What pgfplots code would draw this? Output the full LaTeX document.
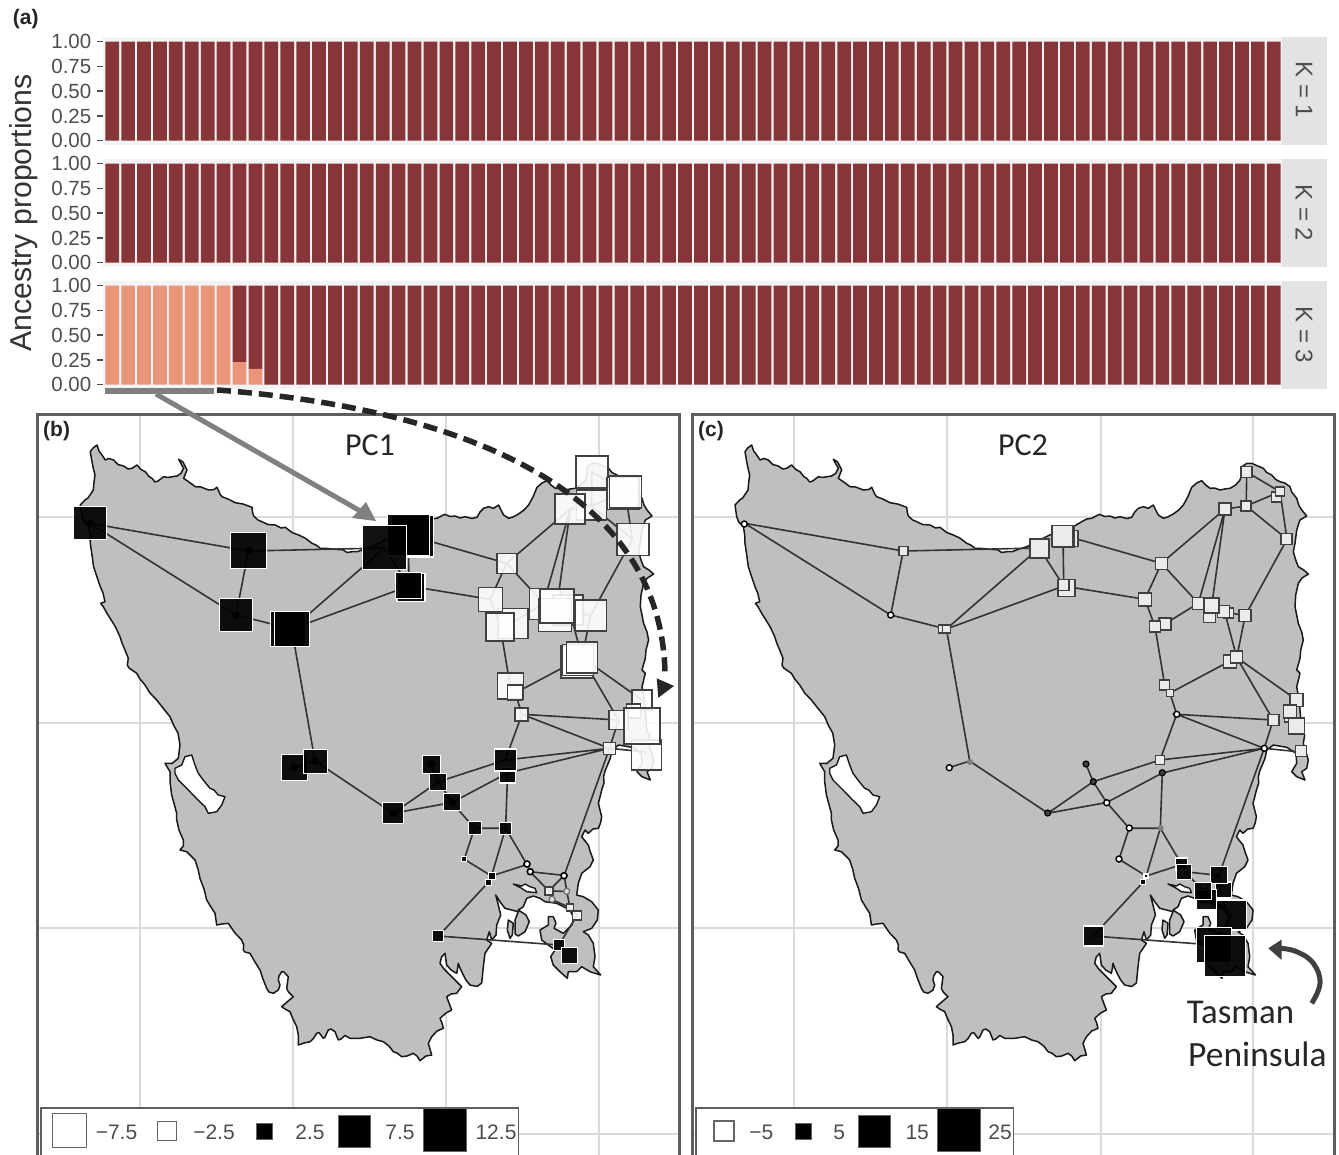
\documentclass[border=0pt]{standalone}
\usepackage{pgfplots}
\usepackage{pgfplotstable}
\usepackage{fontspec}
\pgfplotsset{compat=1.18}
\setmainfont{Liberation Sans}
\newfontfamily\calib{Carlito}
\definecolor{dred}{HTML}{873538}
\definecolor{orng}{HTML}{E8957A}
\definecolor{land}{HTML}{BFBFBF}
\definecolor{gridc}{HTML}{DADADA}
\definecolor{framec}{HTML}{5E5E5E}
\definecolor{txtc}{HTML}{4D4D4D}
\definecolor{stripc}{HTML}{E3E3E3}
\definecolor{panelc}{HTML}{F3F3F3}
\newcommand{\fs}[1]{\fontsize{#1}{#1}\selectfont}

% ---- ancestry bars
\pgfplotstableread[row sep=\\]{
x y\\ 0 1\\ 1 1\\ 2 1\\ 3 1\\ 4 1\\ 5 1\\ 6 1\\ 7 1\\ 8 1\\ 9 1\\ 10 1\\ 11 1\\ 12 1\\ 13 1\\ 14 1\\ 15 1\\ 16 1\\ 17 1\\ 18 1\\ 19 1\\ 20 1\\ 21 1\\ 22 1\\ 23 1\\ 24 1\\ 25 1\\ 26 1\\ 27 1\\ 28 1\\ 29 1\\ 30 1\\ 31 1\\ 32 1\\ 33 1\\ 34 1\\ 35 1\\ 36 1\\ 37 1\\ 38 1\\ 39 1\\ 40 1\\ 41 1\\ 42 1\\ 43 1\\ 44 1\\ 45 1\\ 46 1\\ 47 1\\ 48 1\\ 49 1\\ 50 1\\ 51 1\\ 52 1\\ 53 1\\ 54 1\\ 55 1\\ 56 1\\ 57 1\\ 58 1\\ 59 1\\ 60 1\\ 61 1\\ 62 1\\ 63 1\\ 64 1\\ 65 1\\ 66 1\\ 67 1\\ 68 1\\ 69 1\\ 70 1\\ 71 1\\ 72 1\\ 73 1\\
}\barsone
\pgfplotstableread[row sep=\\]{
x lo hi\\ 0 1 0\\ 1 1 0\\ 2 1 0\\ 3 1 0\\ 4 1 0\\ 5 1 0\\ 6 1 0\\ 7 1 0\\ 8 0.228 0.772\\ 9 0.16 0.84\\ 10 0 1\\ 11 0 1\\ 12 0 1\\ 13 0 1\\ 14 0 1\\ 15 0 1\\ 16 0 1\\ 17 0 1\\ 18 0 1\\ 19 0 1\\ 20 0 1\\ 21 0 1\\ 22 0 1\\ 23 0 1\\ 24 0 1\\ 25 0 1\\ 26 0 1\\ 27 0 1\\ 28 0 1\\ 29 0 1\\ 30 0 1\\ 31 0 1\\ 32 0 1\\ 33 0 1\\ 34 0 1\\ 35 0 1\\ 36 0 1\\ 37 0 1\\ 38 0 1\\ 39 0 1\\ 40 0 1\\ 41 0 1\\ 42 0 1\\ 43 0 1\\ 44 0 1\\ 45 0 1\\ 46 0 1\\ 47 0 1\\ 48 0 1\\ 49 0 1\\ 50 0 1\\ 51 0 1\\ 52 0 1\\ 53 0 1\\ 54 0 1\\ 55 0 1\\ 56 0 1\\ 57 0 1\\ 58 0 1\\ 59 0 1\\ 60 0 1\\ 61 0 1\\ 62 0 1\\ 63 0 1\\ 64 0 1\\ 65 0 1\\ 66 0 1\\ 67 0 1\\ 68 0 1\\ 69 0 1\\ 70 0 1\\ 71 0 1\\ 72 0 1\\ 73 0 1\\
}\barsthree

% ---- coastline, in pixel coordinates of panel (b)
\pgfplotstableread[row sep=\\]{
x y\\
90.3 451.7\\ 93 448\\ 97 445\\ 99 451\\ 102 455\\ 105.3 460\\ 109 458.5\\ 113.6 460\\ 118 464.5\\ 123.6 466\\ 128 469\\ 132 468.3\\ 137 465\\ 141 469.5\\ 145.3 471.7\\ 149 476.5\\ 152 478.3\\ 155 482\\ 158 481\\ 163.6 476.7\\ 168 477.5\\ 172 476.7\\ 177 476\\ 181 473.3\\ 183.6 468.3\\ 178.6 459.3\\ 183 462\\ 187 470\\ 183.6 478.3\\ 189 482\\ 195.3 486.7\\ 201 487\\ 208.6 490\\ 214 489.5\\ 217 487.3\\ 220 494\\ 222 496.7\\ 228 499\\ 235.3 502.7\\ 243 504\\ 252 507.3\\ 252.5 512\\ 253.6 516\\ 258 520\\ 262 521.7\\ 268 524.5\\ 275.3 525\\ 281 528\\ 285.3 527.3\\ 292 532.5\\ 298.6 535\\ 305 538\\ 312 543.3\\ 316 545\\ 320.3 548.3\\ 328 548.5\\ 335.3 549.3\\ 343 549.8\\ 347 552.5\\ 352 551.7\\ 358 551.5\\ 363.6 549.3\\ 372 546.7\\ 395 535\\ 418.6 526.7\\ 427 521.7\\ 432 519\\ 437 518.3\\ 444.6 514.3\\ 450 516.5\\ 455.3 516\\ 460 518\\ 465.3 516.7\\ 472 518.5\\ 477 517.3\\ 480 512\\ 483.6 508.3\\ 488.6 506.7\\ 493.6 508.3\\ 498.6 505\\ 501 510\\ 503.6 515\\ 508.6 518.3\\ 513 517\\ 518.6 514\\ 524 510\\ 528.6 505\\ 533 497\\ 537 487.3\\ 542 483\\ 547 480.7\\ 551 485\\ 555.3 488.3\\ 560 488\\ 565.3 490\\ 570 489\\ 575.3 488.3\\ 581 485\\ 585.3 480\\ 587 474\\ 587 466.7\\ 592 463.5\\ 597 463.3\\ 603 466\\ 608.6 468.3\\ 612 472.5\\ 617 475\\ 621 479.5\\ 625.3 481.7\\ 630 483\\ 635.3 486.7\\ 637 492\\ 642 498.3\\ 644 505\\ 647 510\\ 652 516\\ 645.3 520\\ 642 530\\ 640.3 543.3\\ 638.6 551.7\\ 641 560\\ 643.6 566.7\\ 649 570\\ 653.6 574\\ 647 578.3\\ 643.6 583.3\\ 641 595\\ 640.3 606.7\\ 642 615\\ 643.6 623.3\\ 647 632\\ 648.6 640\\ 646 650\\ 645.3 658.3\\ 642 670\\ 645.3 673.3\\ 642 686.7\\ 644 698\\ 645.3 710\\ 647 731.7\\ 650 735\\ 648.6 743.3\\ 653.6 760\\ 652 768.3\\ 647 771.7\\ 650.3 780\\ 642 776.7\\ 637 771.7\\ 642 763.3\\ 641.3 753.3\\ 632 747.3\\ 618.6 745\\ 612 750\\ 610.3 758.3\\ 605 771\\ 603.6 776.7\\ 604 783\\ 601.7 790\\ 600 797\\ 598.3 803.3\\ 600 810\\ 601.7 816.7\\ 600.5 823\\ 598.3 828.3\\ 593 829\\ 588.3 833.3\\ 585 830\\ 581.7 836.7\\ 585 841\\ 588.3 845\\ 590 851\\ 592.7 858.3\\ 593.3 860\\ 590 866.7\\ 581.7 873.3\\ 578.3 883.3\\ 576.7 895\\ 583.3 896.7\\ 591.7 901.7\\ 598.3 910\\ 597.3 920\\ 591.7 928.3\\ 583.3 931.7\\ 588.3 935\\ 593.3 943.3\\ 595 956.7\\ 593.3 966.7\\ 600.7 975\\ 590 971.7\\ 581.7 966.7\\ 576.7 971.7\\ 568.3 971.7\\ 567.3 978.3\\ 560 971.7\\ 553.3 965\\ 550.7 956.7\\ 555 950\\ 541.7 940\\ 540 930\\ 548.3 925\\ 548.3 916.7\\ 553.3 916.7\\ 556 923.3\\ 554 928.3\\ 563.3 933.3\\ 571.7 925\\ 574 918.3\\ 570 910\\ 556.7 903.3\\ 545 901.7\\ 540 898.3\\ 533.3 896\\ 526.7 898.3\\ 523.3 906.7\\ 518.3 910\\ 526 915\\ 529.3 921.7\\ 525 931.7\\ 518.3 936\\ 515 934\\ 515 920\\ 518.3 911.7\\ 511.7 910\\ 505 908.3\\ 500 901.7\\ 495.7 895\\ 498.3 905\\ 500.7 915\\ 496.7 925\\ 496 935\\ 491.7 940\\ 489.3 931.7\\ 486.7 940\\ 491.7 943.3\\ 485 953.3\\ 483.3 966.7\\ 481.7 983\\ 477 986.5\\ 470 985\\ 466 980\\ 463.3 975\\ 460 968\\ 458.3 963.3\\ 457.5 969\\ 456.7 973.3\\ 451 970\\ 446.7 965\\ 445 953.3\\ 441.5 957\\ 440 963.3\\ 444 969\\ 450 975\\ 455 980\\ 461.7 986.7\\ 459 990\\ 456.7 993.3\\ 451 994\\ 446.7 996.7\\ 449 1003\\ 451.7 1010\\ 446 1013\\ 440 1018.3\\ 442 1023\\ 443.3 1028.3\\ 437 1031\\ 431.7 1036.7\\ 428.3 1043.3\\ 430 1049\\ 431.7 1055\\ 426 1056\\ 420 1060.7\\ 417 1056\\ 413.3 1053.3\\ 407 1056\\ 401.7 1056.7\\ 397 1053\\ 393.3 1051.7\\ 389 1046\\ 383.3 1041.7\\ 377 1040\\ 370 1036.7\\ 360 1038.3\\ 350 1038.3\\ 345 1035.5\\ 341 1039\\ 338.3 1040\\ 335 1031.7\\ 331 1029\\ 328.3 1030\\ 325 1037\\ 323.3 1038.3\\ 319 1032.5\\ 316.7 1033.3\\ 313 1039\\ 310 1041.7\\ 304 1043\\ 298.3 1045\\ 298.5 1036\\ 296.7 1026.7\\ 293 1019\\ 290 1011.7\\ 285 1009\\ 281.7 1006.7\\ 287 1002\\ 293.3 996.7\\ 288.5 992\\ 286.7 988.3\\ 288.3 976.7\\ 284 972\\ 281.7 971.7\\ 279 976\\ 278.3 980\\ 280 985\\ 278.3 990\\ 273.3 993.3\\ 269 992\\ 266.7 988.3\\ 263 979\\ 260 970\\ 255 962\\ 250 953.3\\ 245 952\\ 243.3 950\\ 243.7 945\\ 241.7 940\\ 235 933\\ 228.3 923.3\\ 222 924\\ 216.7 925\\ 215 913.3\\ 211 907\\ 206.7 900\\ 204 889\\ 200 878.3\\ 198 869\\ 195 860\\ 190 855\\ 186.7 851.7\\ 180 850\\ 183.3 846\\ 183.3 840\\ 179 830\\ 176.7 820\\ 176.7 813.3\\ 171.7 795\\ 170 781.7\\ 170 771.7\\ 165 763.3\\ 172 763.5\\ 178.3 758.3\\ 180 745\\ 178 733\\ 174 726\\ 170 716.7\\ 163 708\\ 156.7 700\\ 150 693\\ 145 685\\ 140 679\\ 136.7 673.3\\ 129 668\\ 127.3 665\\ 128.3 658.3\\ 125 650\\ 122 643\\ 120 636.7\\ 116 628\\ 113.3 623.3\\ 108 615\\ 103.3 606.7\\ 100.7 603.3\\ 105 601.7\\ 103 593\\ 100.3 586.7\\ 97 577\\ 93.6 566.7\\ 92 555\\ 90.3 543.3\\ 90 535\\ 88.7 526.7\\ 84 522\\ 82 516.7\\ 80.3 505\\ 85 500\\ 88 498\\ 93.3 490\\ 94 482\\ 95 475\\ 93.3 468.3\\ 91.7 460\\
}\coast
\pgfplotstableread[row sep=\\]{
x y\\ 175 768.3\\ 181.7 765\\ 185 756.7\\ 191.7 755\\ 195 765\\ 198.3 773.3\\ 204 781\\ 210 788.3\\ 214 790\\ 218.3 795\\ 225 796.7\\ 221.7 805\\ 216.7 811.7\\ 208.3 813.3\\ 205 806.7\\ 197 799\\ 190 791.7\\ 178.3 780\\ 175 773.3\\
}\harbour
\pgfplotstableread[row sep=\\]{
x y\\ 513.3 884\\ 521.7 888.3\\ 526.7 891.7\\ 536.7 892.7\\ 535 888.3\\ 530 886.7\\ 525 884\\ 521.7 886\\
}\pitt
\pgfplotstableread[row sep=\\]{
x y\\ 508.3 920\\ 513.3 923.3\\ 512.3 935\\ 510 938.3\\ 507.3 930\\
}\sliver

% ---- network edges
\pgfplotstableread[row sep=\\]{
x y\\
90 523.3\\ 248.5 551\\ 384.5 548\\ nan nan\\
90 523.3\\ 236 615\\ 291.7 629\\ 384.5 548\\ nan nan\\
248.5 551\\ 236 615\\ nan nan\\
291.7 629\\ 409 586\\ 490.2 599.3\\ 500.3 626.7\\ 510 685\\ 515.2 693\\ 522 714.3\\ 505.3 760\\ 438.5 781.7\\ 431.2 764.2\\ nan nan\\
291.7 629\\ 315 761\\ 393.2 813.2\\ 438.5 781.7\\ nan nan\\
315 761\\ 294.3 767.7\\ nan nan\\
393.2 813.2\\ 452 802.5\\ 438.5 781.7\\ nan nan\\
384.5 548\\ 409 586\\ 408.3 535\\ 506.7 563.3\\ 490.2 599.3\\ nan nan\\
506.7 563.3\\ 570.3 509\\ 543.6 603.3\\ 506.7 563.3\\ nan nan\\
510 624\\ 543.6 603.3\\ nan nan\\
570.3 509\\ 557 605.7\\ 570 612\\ 590.5 615.7\\ 632.3 539.2\\ 625.3 491.7\\ 592 472\\ 591.5 506\\ 570.3 509\\ nan nan\\
591.5 506\\ 625.3 491.7\\ nan nan\\
591.5 506\\ 632.3 539.2\\ nan nan\\
570 612\\ 582 657.5\\ 590.5 615.7\\ nan nan\\
515.2 693\\ 582 657.5\\ 642 700\\ nan nan\\
582 657.5\\ 618.5 720\\ 522 714.3\\ 609.5 748.3\\ 505.3 760\\ nan nan\\
618.5 720\\ 609.5 748.3\\ 507.6 773\\ 452 802.5\\ nan nan\\
609.5 748.3\\ 646.2 752\\ nan nan\\
507.6 773\\ 505.6 828.2\\ 474.5 828.2\\ 452 802.5\\ nan nan\\
474.5 828.2\\ 464.3 859.2\\ 491.5 876\\ 505.6 828.2\\ 527 864.5\\ 491.5 876\\ 488.2 882.4\\ 438.5 936\\ 559 945\\ nan nan\\
527 864.5\\ 530 871.7\\ 564.2 875.4\\ 609.5 748.3\\ nan nan\\
530 871.7\\ 548.8 890.8\\ 564.2 875.4\\ 566.8 891.5\\ 548.8 890.8\\ 552 899.6\\ 570 907.7\\ 566.8 891.5\\ nan nan\\
570 907.7\\ 577 915.2\\ 559 945\\ nan nan\\
}\edges

% ---- panel (b): squares, width s in pixels
\pgfplotstableread[row sep=\\]{
x y s\\
592 471.7 32\\ 591.5 505 30\\ 622.7 493.3 32\\ 625.3 491.7 32\\ 570 509 30\\ 632.7 539.3 32\\
506.7 563.3 20\\ 513 623.5 30\\ 490.3 599.3 24\\ 500 626.7 28\\ 545 604 31\\ 568 610 30\\ 555 615 33\\ 557 605.7 34\\ 591 615.7 31\\
576.7 661.7 32\\ 578 660 31\\ 582 657.7 31\\ 510.3 685.7 26\\ 515 692.7 15\\ 521.7 714.3 13\\
641.7 700 20\\ 633.3 711 14\\ 618.7 720 19\\ 646.3 755 30\\ 642 726 36\\ 609.3 748.3 12\\
549 890.7 8\\ 570 907.7 7\\ 577 915.3 9\\
}\bwhite
\pgfplotstableread[row sep=\\]{
x y s\\
90 523.3 33\\ 248.7 550.7 36\\ 236.3 615 33\\ 288.3 629 35\\ 292.3 629 35\\ 294.7 767.7 26\\ 315.3 761.3 24\\
412.3 536 42\\ 408.3 535 42\\ 384.7 547.7 44\\ 411 587.7 28\\ 408.7 585.3 26\\
507.3 775 16\\ 505.3 760 22\\ 431.3 764.3 18\\ 438 781.7 17\\ 452 802.3 17\\ 393 813.3 21\\ 474.7 828.3 13\\ 505.3 828.3 12\\ 464.3 859.3 5\\ 491.7 876 7\\ 488.3 882.7 6\\ 438.3 936 11\\ 559 945 11\\ 569.3 955.7 16\\
}\bblack
\pgfplotstableread[row sep=\\]{
x y\\ 90 523.3\\ 248.5 551\\ 236 615\\ 315 761\\ 294.3 767.7\\ 393.2 813.2\\ 431.2 764.2\\ 452 802.5\\
}\bdots
\pgfplotstableread[row sep=\\]{
x y\\ 527 864\\ 530.3 871.7\\ 564 875.7\\
}\brings
\pgfplotstableread[row sep=\\]{
x y\\ 566.7 891.3\\ 552 899.3\\
}\bringsb

% ---- panel (c)
\pgfplotstableread[row sep=\\]{
x y s\\
248.6 551 9\\ 287.6 629 8\\ 292 629 8\\ 384.6 548.3 19\\ 415.3 538.3 16\\ 408.8 536.5 22\\ 408 536 21\\ 412 588 17\\ 408.6 585 11\\
507 563.3 12\\ 490.3 599.3 13\\ 510.3 624 12\\ 500.3 626.7 11\\ 543.6 603.3 12\\ 554.6 616.7 12\\ 573.6 613 10\\ 568.6 611.7 12\\ 557 605.7 15\\ 590.3 615.7 12\\ 575.3 661.7 13\\ 582 657 12\\ 509.6 685 10\\ 515.3 693 7\\
618.6 720 11\\ 642 700 13\\ 635 717 10\\ 635.3 711.7 13\\ 642 726 16\\ 646.3 751 11\\ 505.3 760 9\\ 570.3 509 12\\ 592 472 11\\ 591.3 506 10\\ 622 497 10\\ 625.3 491.7 9\\ 632 539 11\\
}\cwhite
\pgfplotstableread[row sep=\\]{
x y s\\
527 864 12\\ 529.6 871.7 15\\ 568.6 890 16\\ 564.3 875 17\\ 552 899.3 20\\ 548.6 891 17\\ 577 915 30\\ 559 945 35\\ 570.3 955.7 41\\ 438.6 936 20\\ 491.3 876 4\\ 488 882 5\\
}\cblack
\pgfplotstableread[row sep=\\]{
x y\\ 89.6 524\\ 236 615\\ 294.6 767.7\\ 452 802.7\\ 522 714.3\\ 609.6 748.3\\ 474.6 828\\ 464.3 859\\
}\crings
\pgfplotstableread[row sep=\\]{
x y\\ 393 813 \\ 507.6 772.7\\ 431.3 764\\ 438.6 781.7\\
}\cdark
\pgfplotstableread[row sep=\\]{
x y\\ 315.3 762\\ 506 828\\
}\cgrey

% ---- legends
\pgfplotstableread[row sep=\\]{
x y s\\ 69.7 1130.7 34\\ 167 1131 19\\
}\blegw
\pgfplotstableread[row sep=\\]{
x y s\\ 264.7 1131 16\\ 354.5 1131 32\\ 445 1130 43\\
}\blegb
\pgfplotstableread[row sep=\\]{
x y s\\ 69.3 1131 20\\
}\clegw
\pgfplotstableread[row sep=\\]{
x y s\\ 148.3 1131 16\\ 220.1 1131 32\\ 304 1130 43\\
}\clegb

\pgfplotsset{
 barax/.style={
  scale only axis,width=1179pt,height=108pt,anchor=north west,
  xmin=-0.578,xmax=73.515,ymin=-0.043,ymax=1.047,
  axis background/.style={fill=panelc},
  axis line style={draw=none},
  xtick=\empty,ytick={0,0.25,0.5,0.75,1},ytick pos=left,tick align=outside,
  major tick length=6.5pt,
  tick style={draw=txtc,line width=1.5pt},
  /pgf/number format/assume math mode=true,
  /pgf/number format/fixed,/pgf/number format/fixed zerofill,/pgf/number format/precision=2,
  yticklabel style={font=\fs{20.5},text=txtc,inner sep=0pt,xshift=-5pt},
  ybar stacked,bar width=13.7pt,
 },
 mapax/.style={
  scale only axis,anchor=north west,y dir=reverse,
  ymin=414,ymax=1156,height=742pt,
  xtick={139.5,292.7,446,598.7},ytick={517.3,722.7,928.3,1134.3},
  xticklabels={},yticklabels={},
  major tick length=0pt,tick style={draw=none},
  grid=major,grid style={draw=gridc,line width=2pt},
  axis line style={draw=framec,line width=3pt},
 },
 wsq/.style={scatter,only marks,mark=square*,
  scatter/use mapped color={draw=black!75,fill=white,fill opacity=0.88},
  mark options={line width=1.6pt},
  visualization depends on={\thisrow{s}/2 \as \ms},
  scatter/@pre marker code/.append style={/tikz/mark size=\ms}},
 csq/.style={scatter,only marks,mark=square*,
  scatter/use mapped color={draw=black!75,fill=black!8},
  mark options={line width=1.5pt},
  visualization depends on={\thisrow{s}/2 \as \ms},
  scatter/@pre marker code/.append style={/tikz/mark size=\ms}},
 ksq/.style={scatter,only marks,mark=square*,
  scatter/use mapped color={draw=#1,fill=black,fill opacity=0.93},
  mark options={line width=1.2pt},
  visualization depends on={\thisrow{s}/2 \as \ms},
  scatter/@pre marker code/.append style={/tikz/mark size=\ms}},
 lsq/.style={scatter,only marks,mark=square*,
  scatter/use mapped color={draw=#1,fill=white},
  mark options={line width=1.5pt},
  visualization depends on={\thisrow{s}/2 \as \ms},
  scatter/@pre marker code/.append style={/tikz/mark size=\ms}},
 bsq/.style={scatter,only marks,mark=square*,
  scatter/use mapped color={draw=#1,fill=black},
  mark options={line width=1pt},
  visualization depends on={\thisrow{s}/2 \as \ms},
  scatter/@pre marker code/.append style={/tikz/mark size=\ms}},
 land/.style={fill=land,draw=black!90,line width=1.5pt,line join=round},
 hole/.style={fill=white,draw=black!90,line width=1.4pt,line join=round},
 net/.style={draw=black!80,line width=1.6pt,unbounded coords=jump},
}

\begin{document}
\begin{tikzpicture}
\path[use as bounding box] (0pt,0pt) rectangle (1339pt,-1155pt);

% ---- bars
\begin{axis}[barax,at={(103pt,-37pt)}]
\addplot[fill=dred,draw=none] table[x=x,y=y]{\barsone};
\end{axis}
\begin{axis}[barax,at={(103pt,-159pt)}]
\addplot[fill=dred,draw=none] table[x=x,y=y]{\barsone};
\end{axis}
\begin{axis}[barax,at={(103pt,-281pt)}]
\addplot[fill=orng,draw=none] table[x=x,y=lo]{\barsthree};
\addplot[fill=dred,draw=none] table[x=x,y=hi]{\barsthree};
\end{axis}

% ---- panel b
\begin{axis}[mapax,at={(38pt,-414pt)},width=641pt,xmin=38,xmax=679]
\addplot[land] table[x=x,y=y]{\coast} -- cycle;
\addplot[hole] table[x=x,y=y]{\harbour} -- cycle;
\addplot[hole] table[x=x,y=y]{\pitt} -- cycle;
\addplot[land] table[x=x,y=y]{\sliver} -- cycle;
\addplot[net] table[x=x,y=y]{\edges};
\draw[fill=white,draw=framec,line width=1.3pt] (axis cs:41,1108) rectangle (axis cs:518.3,1157);
\node[anchor=base,font=\fs{21},text=txtc] at (axis cs:116.5,1139.3) {−7.5};
\node[anchor=base,font=\fs{21},text=txtc] at (axis cs:214,1139.3) {−2.5};
\node[anchor=base,font=\fs{21},text=txtc] at (axis cs:310,1139.3) {2.5};
\node[anchor=base,font=\fs{21},text=txtc] at (axis cs:400,1139.3) {7.5};
\node[anchor=base,font=\fs{21},text=txtc] at (axis cs:496,1139.3) {12.5};
\addplot[wsq] table[x=x,y=y]{\bwhite};
\addplot[ksq=white] table[x=x,y=y]{\bblack};
\addplot[only marks,mark=*,mark size=3.5pt,mark options={fill=black,draw=none}] table[x=x,y=y]{\bdots};
\addplot[only marks,mark=*,mark size=3pt,mark options={fill=white,draw=black,line width=1.6pt}] table[x=x,y=y]{\brings};
\addplot[only marks,mark=*,mark size=3pt,mark options={fill=land!50!white,draw=black!60,line width=1.1pt}] table[x=x,y=y]{\bringsb};
\addplot[lsq=black!60] table[x=x,y=y]{\blegw};
\addplot[bsq=black!60] table[x=x,y=y]{\blegb};
\end{axis}

% ---- panel c (same site coordinates as panel b)
\begin{axis}[mapax,at={(692.7pt,-414pt)},width=641.3pt,xmin=38,xmax=679.3]
\addplot[land] table[x=x,y=y]{\coast} -- cycle;
\addplot[hole] table[x=x,y=y]{\harbour} -- cycle;
\addplot[hole] table[x=x,y=y]{\pitt} -- cycle;
\addplot[land] table[x=x,y=y]{\sliver} -- cycle;
\addplot[net] table[x=x,y=y]{\edges};
\draw[fill=white,draw=framec,line width=1.3pt] (axis cs:41.3,1108) rectangle (axis cs:358.6,1157);
\node[anchor=base,font=\fs{21},text=txtc] at (axis cs:106.7,1139.3) {−5};
\node[anchor=base,font=\fs{21},text=txtc] at (axis cs:184.6,1139.3) {5};
\node[anchor=base,font=\fs{21},text=txtc] at (axis cs:262.5,1139.3) {15};
\node[anchor=base,font=\fs{21},text=txtc] at (axis cs:345.3,1139.3) {25};
\addplot[csq] table[x=x,y=y]{\cwhite};
\addplot[ksq=white] table[x=x,y=y]{\cblack};
\addplot[only marks,mark=*,mark size=3pt,mark options={fill=white,draw=black,line width=1.4pt}] table[x=x,y=y]{\crings};
\addplot[only marks,mark=*,mark size=3pt,mark options={fill=black!75,draw=black,line width=1.2pt}] table[x=x,y=y]{\cdark};
\addplot[only marks,mark=*,mark size=2.5pt,mark options={fill=black!50,draw=black!50,line width=1pt}] table[x=x,y=y]{\cgrey};
\addplot[lsq=black!60] table[x=x,y=y]{\clegw};
\addplot[bsq=black!60] table[x=x,y=y]{\clegb};
\end{axis}

% ---- annotations, in image pixels
\begin{scope}[x=1pt,y=-1pt]
\fill[stripc] (1282,37) rectangle (1327,145);
\fill[stripc] (1282,159) rectangle (1327,267);
\fill[stripc] (1282,281) rectangle (1327,389);
\node[rotate=-90,font=\fs{24},text=txtc] at (1304,90) {K = 1};
\node[rotate=-90,font=\fs{24},text=txtc] at (1304,213) {K = 2};
\node[rotate=-90,font=\fs{24},text=txtc] at (1304,335) {K = 3};
\node[rotate=90,anchor=base,font=\fs{30.2},text=black!80] at (31.7,213) {Ancestry proportions};
\node[anchor=base west,inner sep=0pt,font=\bfseries\fs{21},text=black!85] at (12.7,25) {(a)};
\node[anchor=base west,inner sep=0pt,font=\bfseries\fs{21},text=black!85] at (43,437) {(b)};
\node[anchor=base west,inner sep=0pt,font=\bfseries\fs{21},text=black!85] at (698,437) {(c)};
\node[anchor=base,inner sep=0pt,font=\calib\fs{32},text=black!85] at (370,456) {PC1};
\node[anchor=base,inner sep=0pt,font=\calib\fs{32},text=black!85] at (1023,456) {PC2};
\node[anchor=base west,inner sep=0pt,font=\calib\fs{34.8},text=black!85] at (1186.7,1023) {Tasman};
\node[anchor=base west,inner sep=0pt,font=\calib\fs{35.5},text=black!85] at (1188,1066) {Peninsula};
% grey marker and arrow
\fill[black!50] (105,388) rectangle (214,394.3);
\draw[black!50,line width=5pt] (156,394) -- (362,512);
\fill[black!50] (376,521) -- (352,518) -- (366,502) -- cycle;
% dashed arrow
\draw[black!85,line width=5.5pt,dash pattern=on 14pt off 7pt] (217,390) .. controls (420,405) and (660,470) .. (665,672);
\fill[black!85] (656.7,678.3) -- (674,686) -- (658.3,697.7) -- cycle;
% Tasman arrow
\draw[black!75,line width=5pt] plot[smooth,tension=0.7] coordinates {(1311.7,1003.3) (1320,983.3) (1313.3,963.3) (1296.7,951.7) (1280,948.3)};
\fill[black!75] (1268.3,948.3) -- (1281.7,939.5) -- (1281.7,960) -- cycle;
\end{scope}
\end{tikzpicture}
\end{document}
